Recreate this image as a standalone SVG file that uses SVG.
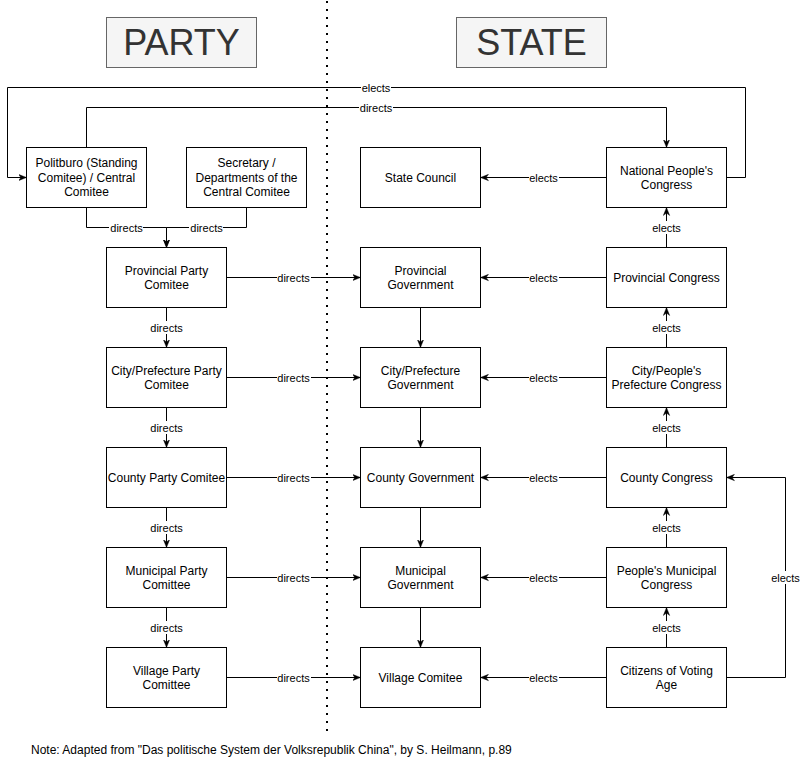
<svg xmlns="http://www.w3.org/2000/svg" width="811" height="778" viewBox="0 0 811 778">
<style>
  .box { fill: #ffffff; stroke: #000000; stroke-width: 1; }
  .title { fill: #f5f5f5; stroke: #666666; stroke-width: 1; }
  .ttl { font-family: "Liberation Sans", Arial, sans-serif; font-size: 36px; fill: #333333; text-anchor: middle; }
  .nt { font-family: "Liberation Sans", Arial, sans-serif; font-size: 12px; fill: #000000; text-anchor: middle; }
  .lbl { font-family: "Liberation Sans", Arial, sans-serif; font-size: 11px; fill: #000000; text-anchor: middle; }
  .lbg { fill: #ffffff; stroke: none; }
  .edge { fill: none; stroke: #000000; stroke-width: 1; }
  .arr { marker-end: url(#arrow); }
  .note { font-family: "Liberation Sans", Arial, sans-serif; font-size: 12px; fill: #000000; }
  .divider { stroke: #000000; stroke-width: 2; stroke-dasharray: 2 6; fill: none; }
</style>
<defs>
  <marker id="arrow" viewBox="0 0 10 10" refX="10" refY="5" markerWidth="8" markerHeight="8" markerUnits="userSpaceOnUse" orient="auto">
    <path d="M0,1 L10,5 L0,9 L3,5 Z" fill="#000000" stroke="#000000" stroke-width="0.5"/>
  </marker>
</defs>
<rect width="811" height="778" fill="#ffffff"/>

<line class="divider" x1="327" y1="1" x2="327" y2="737"/>

<g id="title-party">
  <rect class="title" x="106.5" y="17.5" width="150" height="50"/>
  <text class="ttl" x="181.5" y="55">PARTY</text>
</g>
<g id="title-state">
  <rect class="title" x="456.5" y="17.5" width="150" height="50"/>
  <text class="ttl" x="531.5" y="55">STATE</text>
</g>

<g id="connectors">
  <!-- top loops -->
  <path class="edge arr" d="M726.5,177.5 H745.5 V87.5 H7.5 V177.5 H26.5"/>
  <path class="edge arr" d="M86.5,147.5 V107.5 H666.5 V147.5"/>
  <path class="edge arr" d="M606.5,177.5 H480.5"/>
  <path class="edge arr" d="M86.5,207.5 V227.5 H166.5 V247.5"/>
  <path class="edge arr" d="M246.5,207.5 V227.5 H166.5 V247.5"/>
  <!-- party column -->
  <path class="edge arr" d="M166.5,307.5 V347.5"/>
  <path class="edge arr" d="M166.5,407.5 V447.5"/>
  <path class="edge arr" d="M166.5,507.5 V547.5"/>
  <path class="edge arr" d="M166.5,607.5 V647.5"/>
  <!-- party to government -->
  <path class="edge arr" d="M226.5,277.5 H360.5"/>
  <path class="edge arr" d="M226.5,377.5 H360.5"/>
  <path class="edge arr" d="M226.5,477.5 H360.5"/>
  <path class="edge arr" d="M226.5,577.5 H360.5"/>
  <path class="edge arr" d="M226.5,677.5 H360.5"/>
  <!-- government column -->
  <path class="edge arr" d="M420.5,307.5 V347.5"/>
  <path class="edge arr" d="M420.5,407.5 V447.5"/>
  <path class="edge arr" d="M420.5,507.5 V547.5"/>
  <path class="edge arr" d="M420.5,607.5 V647.5"/>
  <!-- congress to government -->
  <path class="edge arr" d="M606.5,277.5 H480.5"/>
  <path class="edge arr" d="M606.5,377.5 H480.5"/>
  <path class="edge arr" d="M606.5,477.5 H480.5"/>
  <path class="edge arr" d="M606.5,577.5 H480.5"/>
  <path class="edge arr" d="M606.5,677.5 H480.5"/>
  <!-- congress column upward -->
  <path class="edge arr" d="M666.5,247.5 V207.5"/>
  <path class="edge arr" d="M666.5,347.5 V307.5"/>
  <path class="edge arr" d="M666.5,447.5 V407.5"/>
  <path class="edge arr" d="M666.5,547.5 V507.5"/>
  <path class="edge arr" d="M666.5,647.5 V607.5"/>
  <!-- citizens to county congress -->
  <path class="edge arr" d="M726.5,677.5 H785.5 V477.5 H726.5"/>

  <!-- labels -->
  <g id="edge-labels">
    <rect class="lbg" x="361" y="81" width="30" height="13"/><text class="lbl" x="376" y="91.5">elects</text>
    <rect class="lbg" x="359" y="101" width="34" height="13"/><text class="lbl" x="376" y="111.5">directs</text>
    <rect class="lbg" x="529" y="171" width="30" height="13"/><text class="lbl" x="543.5" y="181.5">elects</text>
    <rect class="lbg" x="109" y="221" width="34" height="13"/><text class="lbl" x="126.5" y="231.5">directs</text>
    <rect class="lbg" x="189" y="221" width="34" height="13"/><text class="lbl" x="206.5" y="231.5">directs</text>

    <rect class="lbg" x="149" y="321" width="34" height="13"/><text class="lbl" x="166.5" y="331.5">directs</text>
    <rect class="lbg" x="149" y="421" width="34" height="13"/><text class="lbl" x="166.5" y="431.5">directs</text>
    <rect class="lbg" x="149" y="521" width="34" height="13"/><text class="lbl" x="166.5" y="531.5">directs</text>
    <rect class="lbg" x="149" y="621" width="34" height="13"/><text class="lbl" x="166.5" y="631.5">directs</text>

    <rect class="lbg" x="277" y="271" width="34" height="13"/><text class="lbl" x="293.5" y="281.5">directs</text>
    <rect class="lbg" x="277" y="371" width="34" height="13"/><text class="lbl" x="293.5" y="381.5">directs</text>
    <rect class="lbg" x="277" y="471" width="34" height="13"/><text class="lbl" x="293.5" y="481.5">directs</text>
    <rect class="lbg" x="277" y="571" width="34" height="13"/><text class="lbl" x="293.5" y="581.5">directs</text>
    <rect class="lbg" x="277" y="671" width="34" height="13"/><text class="lbl" x="293.5" y="681.5">directs</text>

    <rect class="lbg" x="529" y="271" width="30" height="13"/><text class="lbl" x="543.5" y="281.5">elects</text>
    <rect class="lbg" x="529" y="371" width="30" height="13"/><text class="lbl" x="543.5" y="381.5">elects</text>
    <rect class="lbg" x="529" y="471" width="30" height="13"/><text class="lbl" x="543.5" y="481.5">elects</text>
    <rect class="lbg" x="529" y="571" width="30" height="13"/><text class="lbl" x="543.5" y="581.5">elects</text>
    <rect class="lbg" x="529" y="671" width="30" height="13"/><text class="lbl" x="543.5" y="681.5">elects</text>

    <rect class="lbg" x="652" y="221" width="30" height="13"/><text class="lbl" x="666.5" y="231.5">elects</text>
    <rect class="lbg" x="652" y="321" width="30" height="13"/><text class="lbl" x="666.5" y="331.5">elects</text>
    <rect class="lbg" x="652" y="421" width="30" height="13"/><text class="lbl" x="666.5" y="431.5">elects</text>
    <rect class="lbg" x="652" y="521" width="30" height="13"/><text class="lbl" x="666.5" y="531.5">elects</text>
    <rect class="lbg" x="652" y="621" width="30" height="13"/><text class="lbl" x="666.5" y="631.5">elects</text>

    <rect class="lbg" x="771" y="571" width="30" height="13"/><text class="lbl" x="785.5" y="581.5">elects</text>
  </g>
</g>

<g id="politburo">
  <rect class="box" x="26.5" y="147.5" width="120" height="60"/>
  <text class="nt" x="86.5" y="167.3">Politburo (Standing</text>
  <text class="nt" x="86.5" y="181.7">Comitee) / Central</text>
  <text class="nt" x="86.5" y="196.1">Comitee</text>
</g>
<g id="secretary">
  <rect class="box" x="186.5" y="147.5" width="120" height="60"/>
  <text class="nt" x="246.5" y="167.3">Secretary /</text>
  <text class="nt" x="246.5" y="181.7">Departments of the</text>
  <text class="nt" x="246.5" y="196.1">Central Comitee</text>
</g>
<g id="state-council">
  <rect class="box" x="360.5" y="147.5" width="120" height="60"/>
  <text class="nt" x="420.5" y="181.7">State Council</text>
</g>
<g id="national-congress">
  <rect class="box" x="606.5" y="147.5" width="120" height="60"/>
  <text class="nt" x="666.5" y="174.5">National People's</text>
  <text class="nt" x="666.5" y="188.9">Congress</text>
</g>

<g id="provincial-party">
  <rect class="box" x="106.5" y="247.5" width="120" height="60"/>
  <text class="nt" x="166.5" y="274.5">Provincial Party</text>
  <text class="nt" x="166.5" y="288.9">Comitee</text>
</g>
<g id="provincial-government">
  <rect class="box" x="360.5" y="247.5" width="120" height="60"/>
  <text class="nt" x="420.5" y="274.5">Provincial</text>
  <text class="nt" x="420.5" y="288.9">Government</text>
</g>
<g id="provincial-congress">
  <rect class="box" x="606.5" y="247.5" width="120" height="60"/>
  <text class="nt" x="666.5" y="281.7">Provincial Congress</text>
</g>

<g id="city-party">
  <rect class="box" x="106.5" y="347.5" width="120" height="60"/>
  <text class="nt" x="166.5" y="374.5">City/Prefecture Party</text>
  <text class="nt" x="166.5" y="388.9">Comitee</text>
</g>
<g id="city-government">
  <rect class="box" x="360.5" y="347.5" width="120" height="60"/>
  <text class="nt" x="420.5" y="374.5">City/Prefecture</text>
  <text class="nt" x="420.5" y="388.9">Government</text>
</g>
<g id="city-congress">
  <rect class="box" x="606.5" y="347.5" width="120" height="60"/>
  <text class="nt" x="666.5" y="374.5">City/People's</text>
  <text class="nt" x="666.5" y="388.9">Prefecture Congress</text>
</g>

<g id="county-party">
  <rect class="box" x="106.5" y="447.5" width="120" height="60"/>
  <text class="nt" x="166.5" y="481.7">County Party Comitee</text>
</g>
<g id="county-government">
  <rect class="box" x="360.5" y="447.5" width="120" height="60"/>
  <text class="nt" x="420.5" y="481.7">County Government</text>
</g>
<g id="county-congress">
  <rect class="box" x="606.5" y="447.5" width="120" height="60"/>
  <text class="nt" x="666.5" y="481.7">County Congress</text>
</g>

<g id="municipal-party">
  <rect class="box" x="106.5" y="547.5" width="120" height="60"/>
  <text class="nt" x="166.5" y="574.5">Municipal Party</text>
  <text class="nt" x="166.5" y="588.9">Comittee</text>
</g>
<g id="municipal-government">
  <rect class="box" x="360.5" y="547.5" width="120" height="60"/>
  <text class="nt" x="420.5" y="574.5">Municipal</text>
  <text class="nt" x="420.5" y="588.9">Government</text>
</g>
<g id="municipal-congress">
  <rect class="box" x="606.5" y="547.5" width="120" height="60"/>
  <text class="nt" x="666.5" y="574.5">People's Municipal</text>
  <text class="nt" x="666.5" y="588.9">Congress</text>
</g>

<g id="village-party">
  <rect class="box" x="106.5" y="647.5" width="120" height="60"/>
  <text class="nt" x="166.5" y="674.5">Village Party</text>
  <text class="nt" x="166.5" y="688.9">Comittee</text>
</g>
<g id="village-comitee">
  <rect class="box" x="360.5" y="647.5" width="120" height="60"/>
  <text class="nt" x="420.5" y="681.7">Village Comitee</text>
</g>
<g id="citizens">
  <rect class="box" x="606.5" y="647.5" width="120" height="60"/>
  <text class="nt" x="666.5" y="674.5">Citizens of Voting</text>
  <text class="nt" x="666.5" y="688.9">Age</text>
</g>

<text class="note" x="31" y="754">Note: Adapted from "Das politische System der Volksrepublik China", by S. Heilmann, p.89</text>
</svg>
